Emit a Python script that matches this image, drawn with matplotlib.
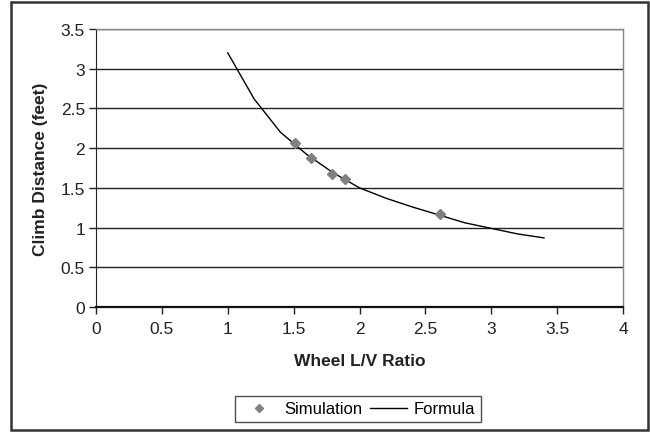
import matplotlib
matplotlib.use("Agg")
import matplotlib.pyplot as plt
from matplotlib.patches import Rectangle
from matplotlib.lines import Line2D

plt.rcParams['font.family'] = ['Liberation Sans', 'DejaVu Sans']

# Formula curve
formula_x = [1.0, 1.2, 1.4, 1.6, 1.8, 2.0, 2.2, 2.4, 2.6, 2.8, 3.0, 3.2, 3.4]
formula_y = [3.20, 2.62, 2.20, 1.92, 1.69, 1.50, 1.37, 1.26, 1.16, 1.06, 0.99, 0.92, 0.87]

# Simulation points
sim_x = [1.51, 1.63, 1.79, 1.89, 2.61]
sim_y = [2.06, 1.88, 1.68, 1.61, 1.17]

xticks = [0, 0.5, 1, 1.5, 2, 2.5, 3, 3.5, 4]
yticks = [0, 0.5, 1, 1.5, 2, 2.5, 3, 3.5]
xtick_labels = ['0', '0.5', '1', '1.5', '2', '2.5', '3', '3.5', '4']
ytick_labels = ['0', '0.5', '1', '1.5', '2', '2.5', '3', '3.5']

W, H = 650, 435
fig = plt.figure(figsize=(W / 100, H / 100), dpi=100)

# outer frame
fig.patches.append(Rectangle((11 / W, 1 - 431 / H), (648 - 11) / W, (431 - 3) / H,
                             transform=fig.transFigure, fill=False,
                             edgecolor='#333333', linewidth=1.8))

ax = fig.add_axes([96 / W, 1 - 308 / H, (623 - 96) / W, (308 - 30) / H])
ax.set_xlim(0, 4)
ax.set_ylim(0, 3.5)
ax.set_xticks(xticks)
ax.set_xticklabels(xtick_labels)
ax.set_yticks(yticks)
ax.set_yticklabels(ytick_labels)
ax.yaxis.grid(True, color='#222222', linewidth=1.0)
ax.set_axisbelow(True)
for s in ['top', 'right']:
    ax.spines[s].set_color('#888888')
    ax.spines[s].set_linewidth(1.0)
ax.spines['left'].set_color('#222222')
ax.spines['bottom'].set_color('#111111')
ax.spines['bottom'].set_linewidth(1.6)
ax.tick_params(axis='both', direction='out', length=5, width=1, color='#222222',
               labelsize=12.5, labelcolor='#222222')
ax.tick_params(axis='x', pad=5)
ax.tick_params(axis='y', pad=3)

ax.plot(formula_x, formula_y, color='black', linewidth=1.0, zorder=3)
ax.plot(sim_x, sim_y, linestyle='none', marker='D', markersize=5.5,
        color='#808080', markeredgecolor='#808080', zorder=4)

ax.set_xlabel('Wheel L/V Ratio', fontsize=12.5, fontweight='bold', labelpad=12, color='#222222')
ax.set_ylabel('Climb Distance (feet)', fontsize=12.5, fontweight='bold', labelpad=9, color='#222222')

handles = [Line2D([], [], linestyle='none', marker='D', markersize=4.5, color='#808080'),
           Line2D([], [], color='black', linewidth=1.0)]
leg = fig.legend(handles, ['Simulation', 'Formula'], loc='center',
                 bbox_to_anchor=(358 / W, 1 - 410 / H), ncol=2, fontsize=12,
                 frameon=True, fancybox=False, edgecolor='#222222',
                 handlelength=2.2, columnspacing=0.5, handletextpad=0.4,
                 borderpad=0.35)
leg.get_frame().set_linewidth(1.0)

fig.savefig('out.png', dpi=100)
